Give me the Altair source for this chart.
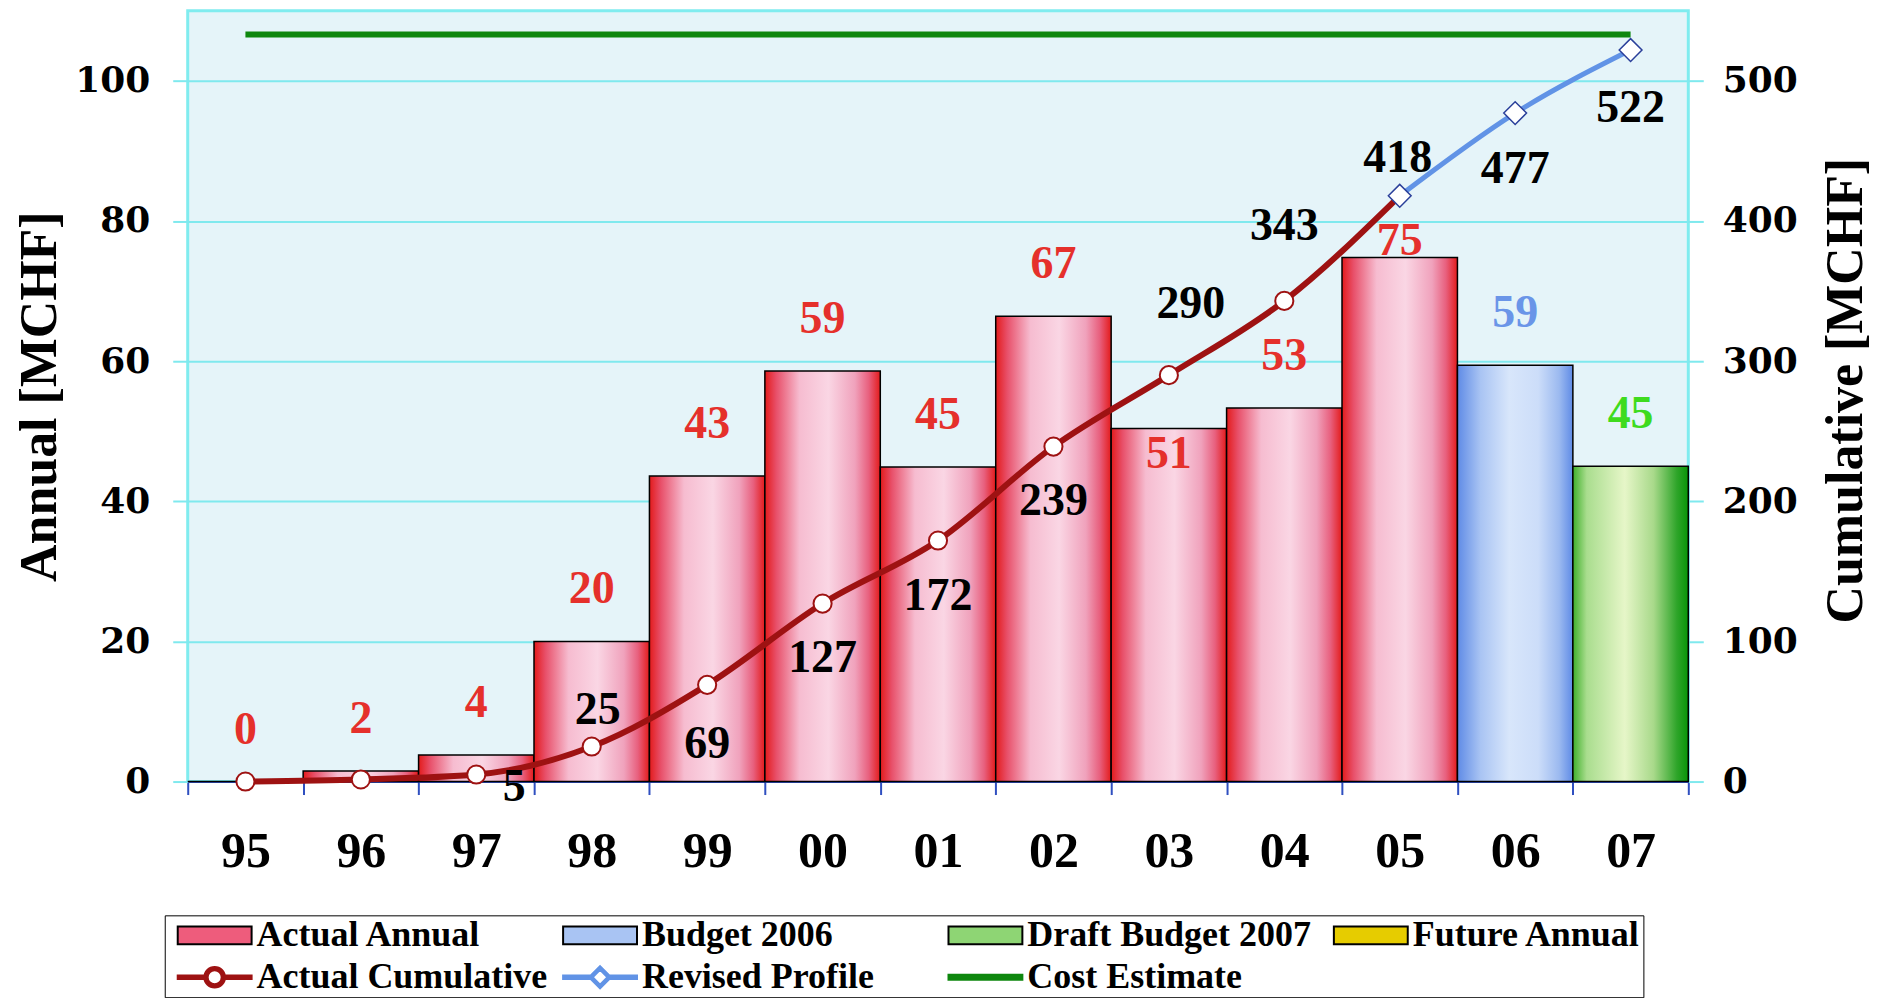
import altair as alt
import pandas as pd

# ---------------- data ----------------
years = ["95", "96", "97", "98", "99", "00", "01", "02", "03", "04", "05", "06", "07"]
annual = [0, 1.5, 3.8, 20, 43.6, 58.6, 44.9, 66.4, 50.4, 53.3, 74.8, 59.4, 45]
annual_labels = ["0", "2", "4", "20", "43", "59", "45", "67", "51", "53", "75", "59", "45"]
annual_kind = ["Actual Annual"] * 11 + ["Budget 2006", "Draft Budget 2007"]
cumulative = [0, 1.5, 5, 25, 69, 127, 172, 239, 290, 343, 418, 477, 522]
cum_labels = ["", "", "5", "25", "69", "127", "172", "239", "290", "343", "418", "477", "522"]
actual_cum_years = years[:11]
revised_years = years[10:]
cost_estimate = 533

legend_names = ["Actual Annual", "Budget 2006", "Draft Budget 2007", "Future Annual",
                "Actual Cumulative", "Revised Profile", "Cost Estimate"]

# ---------------- styles ----------------
SERIF = "Liberation Serif"
NUMF = "DejaVu Serif"
CYAN = "#7FE9EE"
BLUE = "#2F4FC0"
DARKRED = "#9E1212"
REVBLUE = "#6193E6"
GREEN = "#0E870E"
PLOT_BG = "#E5F4F9"

ANNUAL_LABEL_COLOR = {"Actual Annual": "#E5302B", "Budget 2006": "#6A95E8", "Draft Budget 2007": "#3EDB1E"}
ANNUAL_LABEL_DY = {"03": 26, "05": -16}
ANNUAL_LABEL_DY_DEFAULT = -52
CUM_LABEL_NUDGE = {"97": (38, 12), "98": (6, -37), "99": (0, 59), "00": (0, 55), "01": (0, 56),
                   "02": (0, 54), "03": (22, -71), "04": (0, -75), "05": (-2, -38),
                   "06": (0, 56), "07": (0, 58)}


def grad(stops):
    return alt.LinearGradient(gradient="linear", x1=0, x2=1, y1=0, y2=0,
                              stops=[alt.GradientStop(offset=o, color=c) for o, c in stops])


BAR_FILL = {
    "Actual Annual": grad([(0, "#E31B1B"), (0.1, "#E8506A"), (0.3, "#F6BCD0"), (0.55, "#FAD6E4"),
                           (0.78, "#F0A2BC"), (0.9, "#E8607E"), (1, "#E31B1B")]),
    "Budget 2006": grad([(0, "#5F8BE6"), (0.2, "#A9C4F3"), (0.45, "#D8E6FB"), (0.7, "#CCDDF9"),
                         (0.88, "#9CBAF0"), (1, "#5F8BE6")]),
    "Draft Budget 2007": grad([(0, "#3FB02A"), (0.12, "#A9DD8E"), (0.45, "#E6F6C8"), (0.7, "#A8D98A"),
                               (0.9, "#2FA52A"), (1, "#079507")]),
}

bar_sym = "M-1,-0.24H1V0.24H-1Z"
cum_sym = ("M-1,-0.05H-0.28V0.05H-1Z M0.28,-0.05H1V0.05H0.28Z "
           "M-0.28,0A0.28,0.28 0 1,0 0.28,0A0.28,0.28 0 1,0 -0.28,0Z "
           "M-0.19,0A0.19,0.19 0 1,1 0.19,0A0.19,0.19 0 1,1 -0.19,0Z")
rev_sym = ("M-1,-0.05H-0.28V0.05H-1Z M0.28,-0.05H1V0.05H0.28Z "
           "M0,-0.3L0.3,0L0,0.3L-0.3,0Z M0,-0.2L-0.2,0L0,0.2L0.2,0Z")
cost_sym = "M-1,-0.07H1V0.07H-1Z"
legend_shapes = [bar_sym, bar_sym, bar_sym, bar_sym, cum_sym, rev_sym, cost_sym]
legend_fills = ["#EE5C7C", "#A9C4F3", "#8ED574", "#E6CC00", DARKRED, REVBLUE, GREEN]
legend_strokes = ["black", "black", "black", "black", DARKRED, REVBLUE, GREEN]

# ---------------- frames ----------------
df = pd.DataFrame({"year": years, "annual": annual, "annual_label": annual_labels,
                   "kind": annual_kind, "cumulative": cumulative, "cum_label": cum_labels})
cost_df = pd.DataFrame({"year": years, "cumulative": [cost_estimate] * len(years)})
legend_df = pd.DataFrame({"series": legend_names})

x_scale = alt.Scale(domain=years, paddingInner=0, paddingOuter=0)
x_axis = alt.Axis(title=None, labelFont=SERIF, labelFontSize=50, labelFontWeight="bold",
                  labelColor="black", labelPadding=32, labelAngle=0, tickSize=13, tickColor=BLUE,
                  tickWidth=2, domainColor=BLUE, domainWidth=2, tickBand="extent", grid=False)
X = alt.X("year:N", sort=years, scale=x_scale, axis=x_axis)

yl_scale = alt.Scale(domain=[0, 110], nice=False)
yr_scale = alt.Scale(domain=[0, 550], nice=False)

left_axis = alt.Axis(title="Annual [MCHF]", orient="left", values=[0, 20, 40, 60, 80, 100], labelFont=NUMF,
                     labelFontSize=36, labelFontWeight="bold", labelColor="black", labelPadding=23,
                     tickSize=15, tickColor=CYAN, tickWidth=2, domain=False, grid=True,
                     gridColor=CYAN, gridWidth=2, titleFont=SERIF, titleFontSize=52,
                     titleFontWeight="bold", titleColor="black", titleX=-148, titleY=386,
                     titleAngle=270, titleAlign="center", titleBaseline="middle")
right_axis = alt.Axis(title="Cumulative [MCHF]", orient="right", values=[0, 100, 200, 300, 400, 500],
                      labelFont=NUMF, labelFontSize=36, labelFontWeight="bold", labelColor="black",
                      labelPadding=19, tickSize=15, tickColor=CYAN, tickWidth=2, domain=False,
                      grid=False, titleFont=SERIF, titleFontSize=52, titleFontWeight="bold",
                      titleColor="black", titleX=157, titleY=380, titleAngle=270,
                      titleAlign="center", titleBaseline="middle")
YL = alt.Y("annual:Q", scale=yl_scale, axis=left_axis)
YR = alt.Y("cumulative:Q", scale=yr_scale, axis=right_axis)

base = alt.Chart(df)

# ---- bars ----
left_layers = []
for kind in ["Actual Annual", "Budget 2006", "Draft Budget 2007"]:
    left_layers.append(
        base.transform_filter(alt.datum.kind == kind).mark_bar(
            fill=BAR_FILL[kind], stroke="black", strokeWidth=1.5
        ).encode(x=X, y=YL)
    )

# ---- annual labels ----
groups = {}
for yr, kind in zip(years, annual_kind):
    key = (ANNUAL_LABEL_DY.get(yr, ANNUAL_LABEL_DY_DEFAULT), ANNUAL_LABEL_COLOR[kind])
    groups.setdefault(key, []).append(yr)
for (dy, color), yrs in groups.items():
    left_layers.append(
        base.transform_filter(alt.FieldOneOfPredicate(field="year", oneOf=yrs)).mark_text(
            font=SERIF, fontSize=46, fontWeight="bold", color=color, dy=dy,
            align="center", baseline="middle"
        ).encode(x=X, y=YL, text="annual_label:N")
    )

# ---- legend (driven by explicit scale domains) ----
leg = alt.Legend(title=None, orient="none", legendX=-23, legendY=906, direction="horizontal",
                 columns=4, gridAlign="all", columnPadding=5, rowPadding=6, padding=2,
                 strokeColor="black", fillColor="white", labelFont=SERIF, labelFontSize=36,
                 labelFontWeight="bold", labelColor="black", labelLimit=600, labelOffset=4,
                 symbolOffset=10, symbolSize=5476, symbolStrokeWidth=2, clipHeight=36)
legend_layer = alt.Chart(legend_df).transform_filter("false").mark_point(filled=True, opacity=1).encode(
    fill=alt.Fill("series:N", scale=alt.Scale(domain=legend_names, range=legend_fills), legend=leg),
    stroke=alt.Stroke("series:N", scale=alt.Scale(domain=legend_names, range=legend_strokes), legend=leg),
    shape=alt.Shape("series:N", scale=alt.Scale(domain=legend_names, range=legend_shapes), legend=leg),
)
left_layers.append(legend_layer)

left = alt.layer(*left_layers)

# ---- cumulative side ----
right_layers = []
right_layers.append(
    alt.Chart(cost_df).mark_line(color=GREEN, strokeWidth=6).encode(x=X, y=YR)
)
right_layers.append(
    base.transform_filter(alt.FieldOneOfPredicate(field="year", oneOf=revised_years)).mark_line(
        color=REVBLUE, strokeWidth=5, interpolate="monotone").encode(x=X, y=YR)
)
right_layers.append(
    base.transform_filter(alt.FieldOneOfPredicate(field="year", oneOf=actual_cum_years)).mark_line(
        color=DARKRED, strokeWidth=6, interpolate="monotone").encode(x=X, y=YR)
)
right_layers.append(
    base.transform_filter(alt.FieldOneOfPredicate(field="year", oneOf=actual_cum_years[:-1])).mark_point(
        shape="circle", filled=True, fill="white", stroke=DARKRED, strokeWidth=2, size=330, opacity=1
    ).encode(x=X, y=YR)
)
right_layers.append(
    base.transform_filter(alt.FieldOneOfPredicate(field="year", oneOf=revised_years)).mark_point(
        shape="diamond", filled=True, fill="white", stroke="#2A3F9A", strokeWidth=1.5, size=520, opacity=1
    ).encode(x=X, y=YR)
)
cgroups = {}
for yr, lab in zip(years, cum_labels):
    if lab:
        cgroups.setdefault(CUM_LABEL_NUDGE.get(yr, (0, 0)), []).append(yr)
for (dx, dy), yrs in cgroups.items():
    right_layers.append(
        base.transform_filter(alt.FieldOneOfPredicate(field="year", oneOf=yrs)).mark_text(
            font=SERIF, fontSize=46, fontWeight="bold", color="black", dx=dx, dy=dy,
            align="center", baseline="middle"
        ).encode(x=X, y=YR, text="cum_label:N")
    )

right = alt.layer(*right_layers)

chart = alt.layer(left, right).resolve_scale(y="independent").properties(
    width=1503, height=772,
    autosize=alt.AutoSizeParams(type="none"),
    padding={"left": 180, "top": 2, "right": 190, "bottom": 216},
    background="white",
    view=alt.ViewBackground(fill=PLOT_BG, stroke="#80ECEF", strokeWidth=3),
).configure_view(fill=PLOT_BG, stroke="#80ECEF", strokeWidth=3)

chart.save("out.html", embed_options={"renderer": "svg", "actions": False})
